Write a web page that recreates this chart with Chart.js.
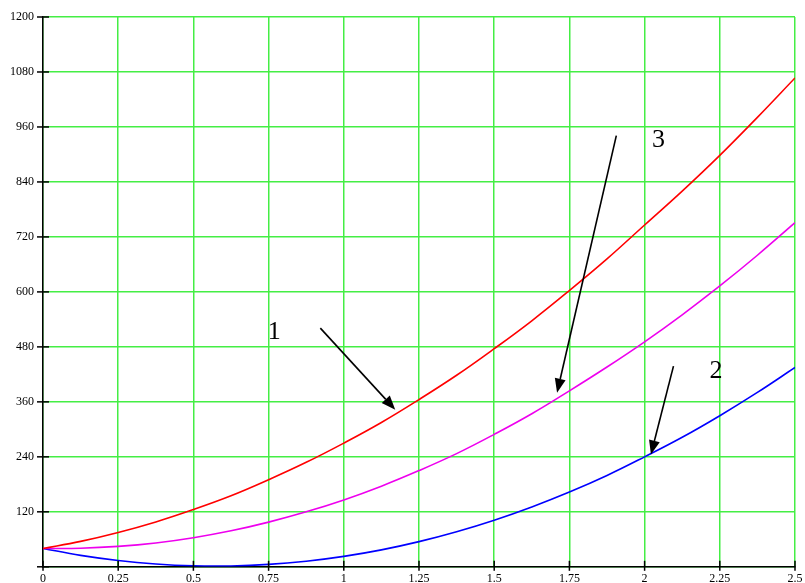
<!DOCTYPE html>
<html>
<head>
<meta charset="utf-8">
<script src="https://cdn.jsdelivr.net/npm/chart.js@4/dist/chart.umd.min.js"></script>
<style>
html,body{margin:0;padding:0;background:#fff;}
#wrap{width:805px;height:583px;position:relative;}
</style>
</head>
<body>
<div id="wrap"><canvas id="c" width="805" height="583"></canvas></div>
<script>
const xValues = [0,0.125,0.25,0.375,0.5,0.625,0.75,0.875,1,1.125,1.25,1.375,1.5,1.625,1.75,1.875,2,2.125,2.25,2.375,2.5];
const curve1 = [40,55.5,75,98,125,155,190,228,270,315,365,418,476,537,603,672,746,820,898,981,1067];
const curve3 = [40,40.5,44.5,52,63.5,78.5,97.5,120,146,176,210,247,289,334,384,436,491,550,613,680,751];
const curve2 = [40,25,13.8,6.2,2.2,1.9,5.2,12.2,22.8,37,55,76.6,101.8,130.7,163.2,199.4,240,282.7,329.8,380.6,435];
const xTickLabels = ['0','0.25','0.5','0.75','1','1.25','1.5','1.75','2','2.25','2.5'];
const yTickLabels = ['0','120','240','360','480','600','720','840','960','1080','1200'];
const curveNames = ['1','2','3'];
const arrowNotes = [
  {label:'1', lx:0.769, ly:513, x0:0.922, y0:521, x1:1.171, y1:343},
  {label:'3', lx:2.046, ly:932, x0:1.906, y0:941, x1:1.709, y1:380},
  {label:'2', lx:2.237, ly:427, x0:2.096, y0:438, x1:2.021, y1:245}
];

const toXY = arr => arr.map((v,i)=>({x:xValues[i], y:v}));

const overlay = {
  id:'overlay',
  afterDraw(chart){
    const ctx = chart.ctx, xs = chart.scales.x, ys = chart.scales.y, a = chart.chartArea;
    ctx.save();
    ctx.strokeStyle = '#000'; ctx.lineWidth = 1.5;
    yTickLabels.forEach(t=>{
      const py = ys.getPixelForValue(+t);
      ctx.beginPath(); ctx.moveTo(a.left-6, py); ctx.lineTo(a.left+6, py); ctx.stroke();
    });
    xTickLabels.forEach(t=>{
      const px = xs.getPixelForValue(+t);
      ctx.beginPath(); ctx.moveTo(px, a.bottom-6); ctx.lineTo(px, a.bottom+4); ctx.stroke();
    });
    arrowNotes.forEach(n=>{
      const x0 = xs.getPixelForValue(n.x0), y0 = ys.getPixelForValue(n.y0);
      const x1 = xs.getPixelForValue(n.x1), y1 = ys.getPixelForValue(n.y1);
      const ang = Math.atan2(y1-y0, x1-x0);
      const L = 14, W = 5.5;
      const bx = x1 - L*Math.cos(ang), by = y1 - L*Math.sin(ang);
      ctx.lineWidth = 1.6;
      ctx.beginPath(); ctx.moveTo(x0,y0); ctx.lineTo(bx,by); ctx.stroke();
      ctx.fillStyle = '#000';
      ctx.beginPath();
      ctx.moveTo(x1,y1);
      ctx.lineTo(bx + W*Math.sin(ang), by - W*Math.cos(ang));
      ctx.lineTo(bx - W*Math.sin(ang), by + W*Math.cos(ang));
      ctx.closePath(); ctx.fill();
      ctx.font = '26px "Liberation Serif", "Times New Roman", serif';
      ctx.textAlign = 'center'; ctx.textBaseline = 'middle';
      ctx.fillText(n.label, xs.getPixelForValue(n.lx), ys.getPixelForValue(n.ly));
    });
    ctx.restore();
  }
};

const tickFont = {family:'"Liberation Serif", "Times New Roman", serif', size:12};

new Chart(document.getElementById('c'), {
  type:'line',
  data:{
    datasets:[
      {label:curveNames[0], data:toXY(curve1), borderColor:'#ff0000', borderWidth:1.6, pointRadius:0, tension:0.4, fill:false},
      {label:curveNames[2], data:toXY(curve3), borderColor:'#ee00ee', borderWidth:1.6, pointRadius:0, tension:0.4, fill:false},
      {label:curveNames[1], data:toXY(curve2), borderColor:'#0000ff', borderWidth:1.6, pointRadius:0, tension:0.4, fill:false}
    ]
  },
  options:{
    responsive:false, animation:false,
    layout:{padding:{left:0, right:10, top:17, bottom:0}},
    plugins:{legend:{display:false}, tooltip:{enabled:false}},
    scales:{
      x:{
        type:'linear', min:0, max:2.5,
        afterFit(s){ s.height = 16; s.paddingRight = 0; },
        afterBuildTicks(s){ s.ticks = xTickLabels.map(t=>({value:+t})); },
        grid:{color:'#44ee44', lineWidth:1.5, drawTicks:false},
        border:{color:'#000', width:1.5},
        ticks:{color:'#000', font:tickFont, padding:5, maxRotation:0, autoSkip:false,
          callback:(v)=>{ const i = xTickLabels.findIndex(t=>+t===v); return i>=0?xTickLabels[i]:''; }}
      },
      y:{
        type:'linear', min:0, max:1200,
        afterFit(s){ s.width = 43; },
        afterBuildTicks(s){ s.ticks = yTickLabels.map(t=>({value:+t})); },
        grid:{color:'#44ee44', lineWidth:1.5, drawTicks:false},
        border:{color:'#000', width:1.5},
        ticks:{color:'#000', font:tickFont, padding:9, autoSkip:false,
          callback:(v)=>{ const i = yTickLabels.findIndex(t=>+t===v); return (i>0)?yTickLabels[i]:''; }}
      }
    }
  },
  plugins:[overlay]
});
</script>
</body>
</html>
